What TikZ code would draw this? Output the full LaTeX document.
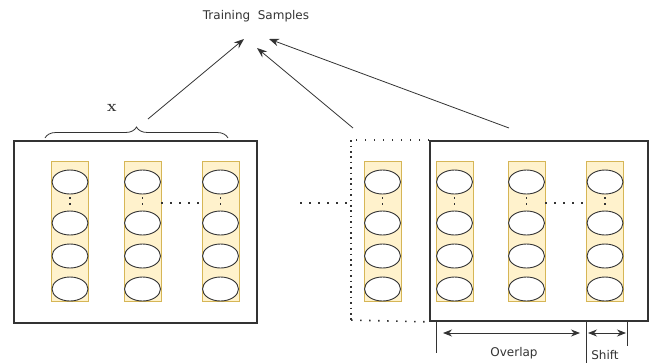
\documentclass[tikz,border=0pt]{standalone}
\usepackage{fontspec}
\setsansfont{DejaVu Sans}
\usetikzlibrary{arrows.meta, positioning, shapes.geometric, decorations.pathreplacing}
\definecolor{colfill}{HTML}{FFF2CC}
\definecolor{coldraw}{HTML}{D6B656}
\definecolor{inkc}{HTML}{333333}

\begin{document}
\begin{tikzpicture}[
  x=1pt, y=-1pt,
  frame/.style={draw=inkc, line width=1.8pt, inner sep=0pt},
  col/.style={draw=coldraw, fill=colfill, minimum width=37pt, minimum height=140pt, inner sep=0pt},
  cell/.style={ellipse, draw=inkc, line width=0.9pt, fill=white, minimum width=36pt, minimum height=24pt, inner sep=0pt},
  hdots/.style={inkc, line width=1.6pt, dash pattern=on 1.6pt off 7.4pt},
  vdots/.style={inkc, line width=1.6pt, dash pattern=on 1.6pt off 3.8pt},
  arr/.style={-{Stealth[length=10pt, width=7.5pt]}, inkc, thick},
  dim/.style={{Stealth[length=9pt, width=7pt]}-{Stealth[length=9pt, width=7pt]}, inkc, thick},
  lbl/.style={font=\sffamily\fontsize{12}{14}\selectfont, text=inkc}
]
\useasboundingbox (0,0) rectangle (656,362);

\node[lbl] (samples) at (256,16) {Training\ \ Samples};

% the two windows
\node[frame, minimum width=243pt, minimum height=182pt] (win1) at (135.5,232) {};
\node[frame, minimum width=218pt, minimum height=180pt] (win2) at (539,231) {};

% sample columns, four cells each
\foreach \n/\x in {a/70, b/142.5, c/220.5, d/382.5, e/454.5, f/526.5, g/605} {
  \node[col] (\n) at (\x,231) {};
  \foreach \k/\y in {1/182, 2/223, 3/256, 4/289}
    \node[cell] (\n\k) at (\x,\y) {};
  \coordinate (\n m) at (\x,203);
  \draw[inkc, line width=1.6pt, dash pattern=on 1.6pt off 4.4pt, shorten <=3pt, shorten >=1.5pt] (\n1.south) -- (\n2.north);
}
\draw[hdots] (b.east |- bm) -- (c.west |- cm);
\draw[hdots] (f.east |- fm) -- (g.west |- gm);

% previous window (dotted) and the gap between windows
\draw[hdots] (win2.north west) -- ++(-78,0) coordinate (prevnw);
\draw[vdots] (prevnw) -- ++(0,180) coordinate (prevsw);
\draw[hdots] (prevsw) -- (win2.south west);
\coordinate (gap) at (300,203);
\draw[hdots] (gap) -- (gap -| prevnw);

% window size
\coordinate (bl) at (45,138);
\coordinate (br) at (228,138);
\draw[inkc, thick, decorate, decoration={brace, amplitude=11pt}] (bl) -- (br);
\node[font=\bfseries\fontsize{16}{16}\selectfont, text=inkc] (xlbl) at (112,108) {x};

% windows give training samples
\coordinate (src1) at (148,119);
\coordinate (src2) at (353,128);
\coordinate (src3) at (509,128);
\coordinate (tgt1) at (244,39);
\coordinate (tgt2) at (257,48);
\coordinate (tgt3) at (269,39);
\draw[arr] (src1) -- (tgt1);
\draw[arr] (src2) -- (tgt2);
\draw[arr] (src3) -- (tgt3);

% overlap and shift
\draw[inkc] (e.west |- win2.south) -- ++(0,31);
\draw[inkc] (g.west |- win2.south) -- ++(0,41);
\draw[inkc] ([xshift=3.5pt]g.east |- win2.south) -- ++(0,24);
\coordinate (ovl) at (443,333);
\coordinate (ovr) at (580,333);
\coordinate (shl) at (588,333);
\coordinate (shr) at (626,333);
\draw[dim] (ovl) -- (ovr);
\draw[dim] (shl) -- (shr);
\node[lbl] (overlap) at (514,353) {Overlap};
\node[lbl] (shift) at (605,355) {Shift};
\end{tikzpicture}
\end{document}
